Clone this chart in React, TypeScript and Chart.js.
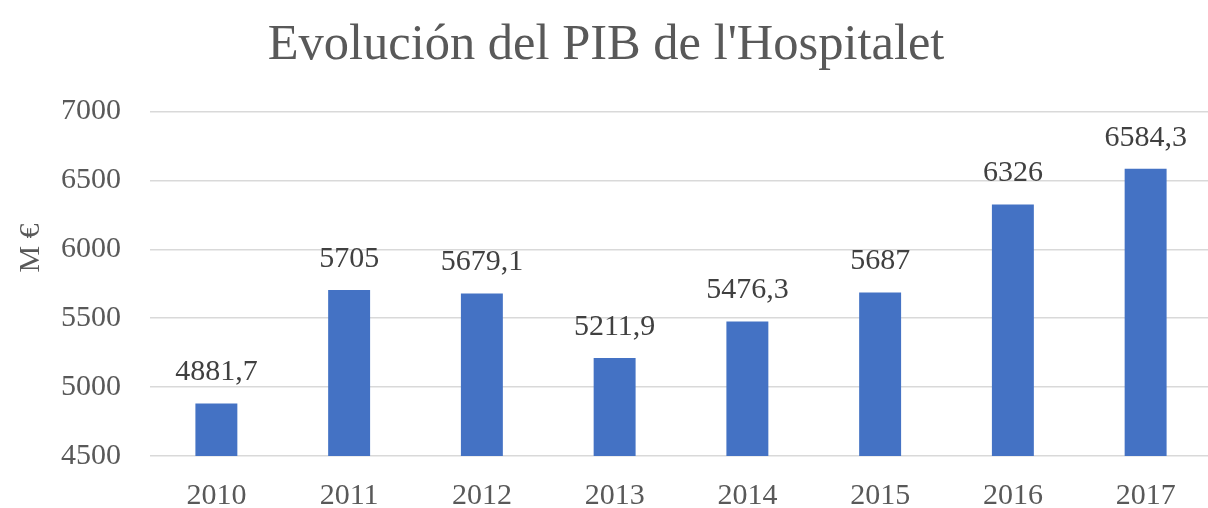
import React, { useEffect, useRef } from "react";
import { Chart, registerables } from "chart.js";

Chart.register(...registerables);

const years = ["2010", "2011", "2012", "2013", "2014", "2015", "2016", "2017"];
const pib = [4881.7, 5705, 5679.1, 5211.9, 5476.3, 5687, 6326, 6584.3];
const yTicks = [4500, 5000, 5500, 6000, 6500, 7000];
const chartTitle = "Evolución del PIB de l'Hospitalet";
const yTitle = "M €";

const SERIF = "'Liberation Serif', 'Times New Roman', serif";

const labelsPlugin = {
  id: "barLabels",
  afterDatasetsDraw(chart: any) {
    const ctx = chart.ctx;
    const meta = chart.getDatasetMeta(0);
    ctx.save();
    ctx.font = `30px ${SERIF}`;
    ctx.fillStyle = "#404040";
    ctx.textAlign = "center";
    ctx.textBaseline = "middle";
    meta.data.forEach((bar: any, i: number) => {
      const txt = String(pib[i]).replace(".", ",");
      ctx.fillText(txt, bar.x, bar.y - 31);
    });
    // y axis title
    ctx.translate(31, 248);
    ctx.rotate(-Math.PI / 2);
    ctx.fillStyle = "#595959";
    ctx.fillText(yTitle, 0, 0);
    ctx.restore();
  },
};

export default function App() {
  const ref = useRef<HTMLCanvasElement>(null);
  useEffect(() => {
    document.body.style.margin = "0";
    const chart = new Chart(ref.current!, {
      type: "bar",
      data: {
        labels: years,
        datasets: [
          {
            data: pib,
            backgroundColor: "#4472C4",
            barPercentage: 0.316,
            categoryPercentage: 1,
          },
        ],
      },
      options: {
        responsive: false,
        animation: false,
        layout: { padding: 0 },
        plugins: {
          legend: { display: false },
          tooltip: { enabled: false },
          title: {
            display: true,
            text: chartTitle,
            color: "#595959",
            font: { family: SERIF, size: 50.5, weight: "normal" as any, lineHeight: 1.2 },
            padding: { top: 15, bottom: 36 },
          },
        },
        scales: {
          x: {
            grid: { display: false, drawTicks: false },
            border: { display: false },
            ticks: { color: "#595959", font: { family: SERIF, size: 30 }, padding: 22 },
            afterFit(scale: any) {
              scale.height = 52;
            },
          },
          y: {
            min: 4500,
            max: 7000,
            afterBuildTicks(scale: any) {
              scale.ticks = yTicks.map((v) => ({ value: v }));
            },
            grid: { color: "#d9d9d9", lineWidth: 1.5, drawTicks: false },
            border: { display: false },
            ticks: {
              color: "#595959",
              font: { family: SERIF, size: 30 },
              padding: 29,
              callback: (v: any) => String(v),
            },
            afterFit(scale: any) {
              scale.width = 150;
            },
          },
        },
      },
      plugins: [labelsPlugin],
    });
    return () => chart.destroy();
  }, []);
  return (
    <div style={{ width: 1208, height: 508, overflow: "hidden", background: "#fff" }}>
      <canvas ref={ref} width={1212} height={508} style={{ display: "block" }} />
    </div>
  );
}
